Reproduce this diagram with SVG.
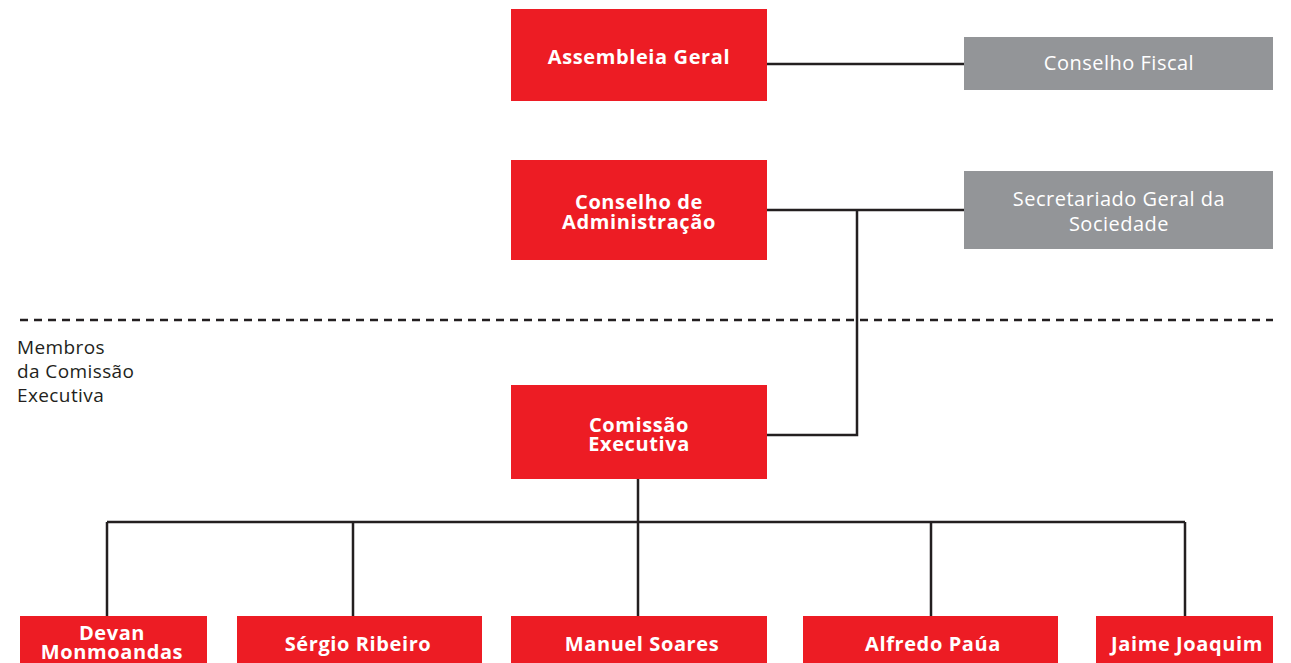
<svg xmlns="http://www.w3.org/2000/svg" width="1291" height="663" viewBox="0 0 1291 663">
<style>
.r{fill:#ED1C24}
.g{fill:#939598}
.tb{font-family:"Open Sans","Liberation Sans",sans-serif;font-weight:700;font-size:20px;letter-spacing:0.6px;fill:#fff;text-anchor:middle}
.tg{font-family:"Open Sans","Liberation Sans",sans-serif;font-size:20px;letter-spacing:0.5px;fill:#fff;text-anchor:middle}
.tl{font-family:"Open Sans","Liberation Sans",sans-serif;font-size:19px;letter-spacing:0.4px;fill:#231F20}
.c{stroke:#231F20;stroke-width:2.5;fill:none}
</style>
<rect width="1291" height="663" fill="#fff"/>
<g id="connectors">
<path class="c" d="M767 64H964"/>
<path class="c" d="M767 210H964M857 210V435H767"/>
<path class="c" d="M638 479V522M107 522H1185M107 522V616M353 522V616M638 522V616M931 522V616M1185 522V616"/>
<line x1="20" y1="320" x2="1273" y2="320" stroke="#231F20" stroke-width="2.5" stroke-dasharray="8 6"/>
</g>
<g id="assembleia"><rect class="r" x="511" y="9" width="256" height="92"/><text class="tb" x="639" y="64">Assembleia Geral</text></g>
<g id="fiscal"><rect class="g" x="964" y="37" width="309" height="53"/><text class="tg" x="1119" y="70">Conselho Fiscal</text></g>
<g id="administracao"><rect class="r" x="511" y="160" width="256" height="100"/><text class="tb" x="639" y="209">Conselho de</text><text class="tb" x="639" y="229">Administração</text></g>
<g id="secretariado"><rect class="g" x="964" y="171" width="309" height="78"/><text class="tg" x="1119" y="206">Secretariado Geral da</text><text class="tg" x="1119" y="231">Sociedade</text></g>
<g id="membros-label"><text class="tl" x="17" y="354">Membros</text><text class="tl" x="17" y="378">da Comissão</text><text class="tl" x="17" y="402">Executiva</text></g>
<g id="comissao"><rect class="r" x="511" y="385" width="256" height="94"/><text class="tb" x="639" y="432">Comissão</text><text class="tb" x="639" y="451">Executiva</text></g>
<g id="devan"><rect class="r" x="20" y="616" width="187" height="47"/><text class="tb" x="112" y="640">Devan</text><text class="tb" x="112" y="659">Monmoandas</text></g>
<g id="sergio"><rect class="r" x="237" y="616" width="245" height="47"/><text class="tb" x="358" y="651">Sérgio Ribeiro</text></g>
<g id="manuel"><rect class="r" x="511" y="616" width="256" height="47"/><text class="tb" x="642" y="651">Manuel Soares</text></g>
<g id="alfredo"><rect class="r" x="803" y="616" width="255" height="47"/><text class="tb" x="933" y="651">Alfredo Paúa</text></g>
<g id="jaime"><rect class="r" x="1096" y="616" width="177" height="47"/><text class="tb" x="1187" y="651">Jaime Joaquim</text></g>
</svg>
